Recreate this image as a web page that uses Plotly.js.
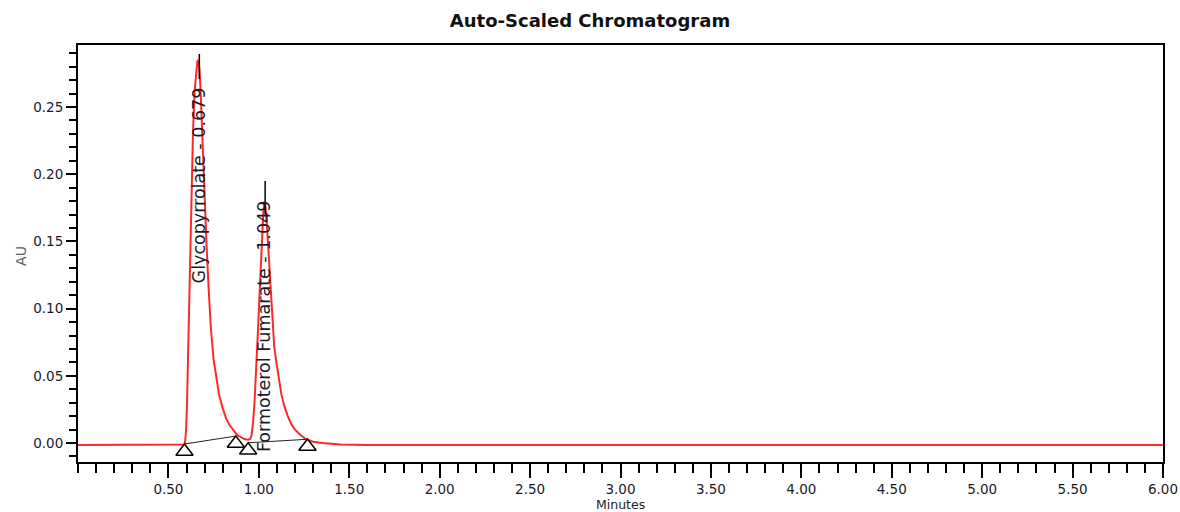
<!DOCTYPE html>
<html>
<head>
<meta charset="utf-8">
<script src="https://cdn.plot.ly/plotly-3.0.1.min.js"></script>
<style>html,body{margin:0;padding:0;background:#fff;}#chart{width:1180px;height:512px;}</style>
</head>
<body>
<div id="chart"></div>
<script>
// Chromatogram signal (minutes, AU)
const timeMin = [0.00, 0.30, 0.580, 0.588, 0.593, 0.598, 0.603, 0.608, 0.614, 0.621, 0.628, 0.636, 0.645, 0.653, 0.660, 0.666,
  0.672, 0.680, 0.690, 0.700, 0.710, 0.722, 0.735, 0.750, 0.765, 0.780, 0.800, 0.820, 0.840, 0.860, 0.880, 0.900, 0.920, 0.940, 0.952,
  0.960, 0.968, 0.976, 0.985, 0.994, 1.003, 1.011, 1.018, 1.025, 1.031, 1.036, 1.042, 1.050, 1.058, 1.066, 1.075, 1.085, 1.097, 1.110,
  1.125, 1.140, 1.160, 1.180, 1.200, 1.230, 1.260, 1.300, 1.350, 1.450, 1.600, 2.00, 3.00, 4.00, 5.00, 6.00];
const signalAU = [-0.0015, -0.0015, -0.0015, -0.0010, 0.002, 0.010, 0.030, 0.060, 0.105, 0.150, 0.195, 0.232, 0.262, 0.278, 0.284, 0.285,
  0.278, 0.255, 0.218, 0.182, 0.150, 0.116, 0.085, 0.062, 0.047, 0.036, 0.026, 0.018, 0.013, 0.009, 0.006, 0.0045, 0.003, 0.0025, 0.003,
  0.006, 0.015, 0.030, 0.052, 0.080, 0.108, 0.135, 0.157, 0.172, 0.178, 0.177, 0.168, 0.150, 0.128, 0.107, 0.088, 0.072, 0.060, 0.048,
  0.036, 0.028, 0.020, 0.014, 0.010, 0.006, 0.003, 0.001, 0.000, -0.001, -0.0015, -0.0015, -0.0015, -0.0015, -0.0015, -0.0015];

// Integration baseline segments
const baseT = [0.589, 0.873, null, 0.941, 1.269];
const baseAU = [-0.0007, 0.0052, null, 0.0002, 0.0028];

// Baseline start/end markers (triangles)
const markT = [0.589, 0.873, 0.941, 1.269];
const markAU = [-0.0063, -0.0004, -0.0054, -0.0026];

// Peak apex tick lines
const apexT = [0.671, 0.671, null, 1.035, 1.035];
const apexAU = [0.2894, 0.2708, null, 0.195, 0.170];

// Peak names and retention times
const peakNames = ["Glycopyrrolate", "Formoterol Fumarate"];
const peakRT = ["0.679", "1.049"];

// Tick labels
const xTickVals = [0.5, 1.0, 1.5, 2.0, 2.5, 3.0, 3.5, 4.0, 4.5, 5.0, 5.5, 6.0];
const xTickText = ["0.50", "1.00", "1.50", "2.00", "2.50", "3.00", "3.50", "4.00", "4.50", "5.00", "5.50", "6.00"];
const yTickVals = [0.00, 0.05, 0.10, 0.15, 0.20, 0.25];
const yTickText = ["0.00", "0.05", "0.10", "0.15", "0.20", "0.25"];

const FONT = "DejaVu Sans, Liberation Sans, Arial, sans-serif";

const traces = [
  {x: timeMin, y: signalAU, type: "scatter", mode: "lines",
   line: {color: "rgb(255,40,40)", width: 2}, hoverinfo: "skip"},
  {x: baseT, y: baseAU, type: "scatter", mode: "lines",
   line: {color: "#222", width: 1}, hoverinfo: "skip"},
  {x: apexT, y: apexAU, type: "scatter", mode: "lines",
   line: {color: "#000", width: 1.5}, hoverinfo: "skip"},
  {x: markT, y: markAU, type: "scatter", mode: "markers",
   marker: {symbol: "triangle-up-open", size: 15, color: "#000", line: {color: "#000", width: 1.5}}, hoverinfo: "skip"}
];

const labelPos = [{x: 0.666, y: 0.192}, {x: 1.029, y: 0.0863}];
const annotations = peakNames.map((n, i) => ({
  x: labelPos[i].x, y: labelPos[i].y, xref: "x", yref: "y",
  text: n + " - " + peakRT[i], textangle: -90, showarrow: false,
  xanchor: "center", yanchor: "middle",
  font: {family: FONT, size: 17.5, color: "#1a1a2a"}
}));
annotations.push({
  text: "AU", xref: "paper", yref: "paper", x: -0.0526, y: 0.494,
  xanchor: "center", yanchor: "middle", textangle: -90, showarrow: false,
  font: {family: FONT, size: 14, color: "#5a5a66"}
});
annotations.push({
  text: "Minutes", xref: "paper", yref: "paper", x: 0.5, y: 0,
  xanchor: "center", yanchor: "top", yshift: -33, showarrow: false,
  font: {family: FONT, size: 12.5, color: "#222"}
});

const layout = {
  width: 1180, height: 512,
  margin: {l: 78, r: 17, t: 45, b: 50, pad: 0},
  paper_bgcolor: "#fff", plot_bgcolor: "#fff",
  showlegend: false,
  title: {text: "Auto-Scaled Chromatogram", x: 0.5, xref: "container", xanchor: "center",
          y: 0.959, yref: "container", yanchor: "middle",
          font: {family: FONT, size: 18, color: "#111", weight: "bold"}},
  xaxis: {range: [0, 6], showgrid: false, zeroline: false,
          showline: true, linecolor: "#000", linewidth: 2, mirror: true,
          tickmode: "array", tickvals: xTickVals, ticktext: xTickText,
          ticks: "outside", ticklen: 14, tickwidth: 2, tickcolor: "#000",
          tickfont: {family: FONT, size: 13.5, color: "#1a1a2a"},
          minor: {ticks: "outside", dtick: 0.1, tick0: 0, ticklen: 9, tickwidth: 2, tickcolor: "#000", showgrid: false}},
  yaxis: {range: [-0.0141, 0.2961], showgrid: false, zeroline: false,
          showline: true, linecolor: "#000", linewidth: 2, mirror: true,
          tickmode: "array", tickvals: yTickVals, ticktext: yTickText,
          ticks: "outside", ticklen: 10, tickwidth: 2, tickcolor: "#000",
          tickfont: {family: FONT, size: 13.5, color: "#1a1a2a"},
          minor: {ticks: "outside", dtick: 0.01, tick0: 0, ticklen: 7, tickwidth: 2, tickcolor: "#000", showgrid: false}},
  annotations: annotations
};

Plotly.newPlot("chart", traces, layout, {displayModeBar: false, staticPlot: true});
</script>
</body>
</html>
